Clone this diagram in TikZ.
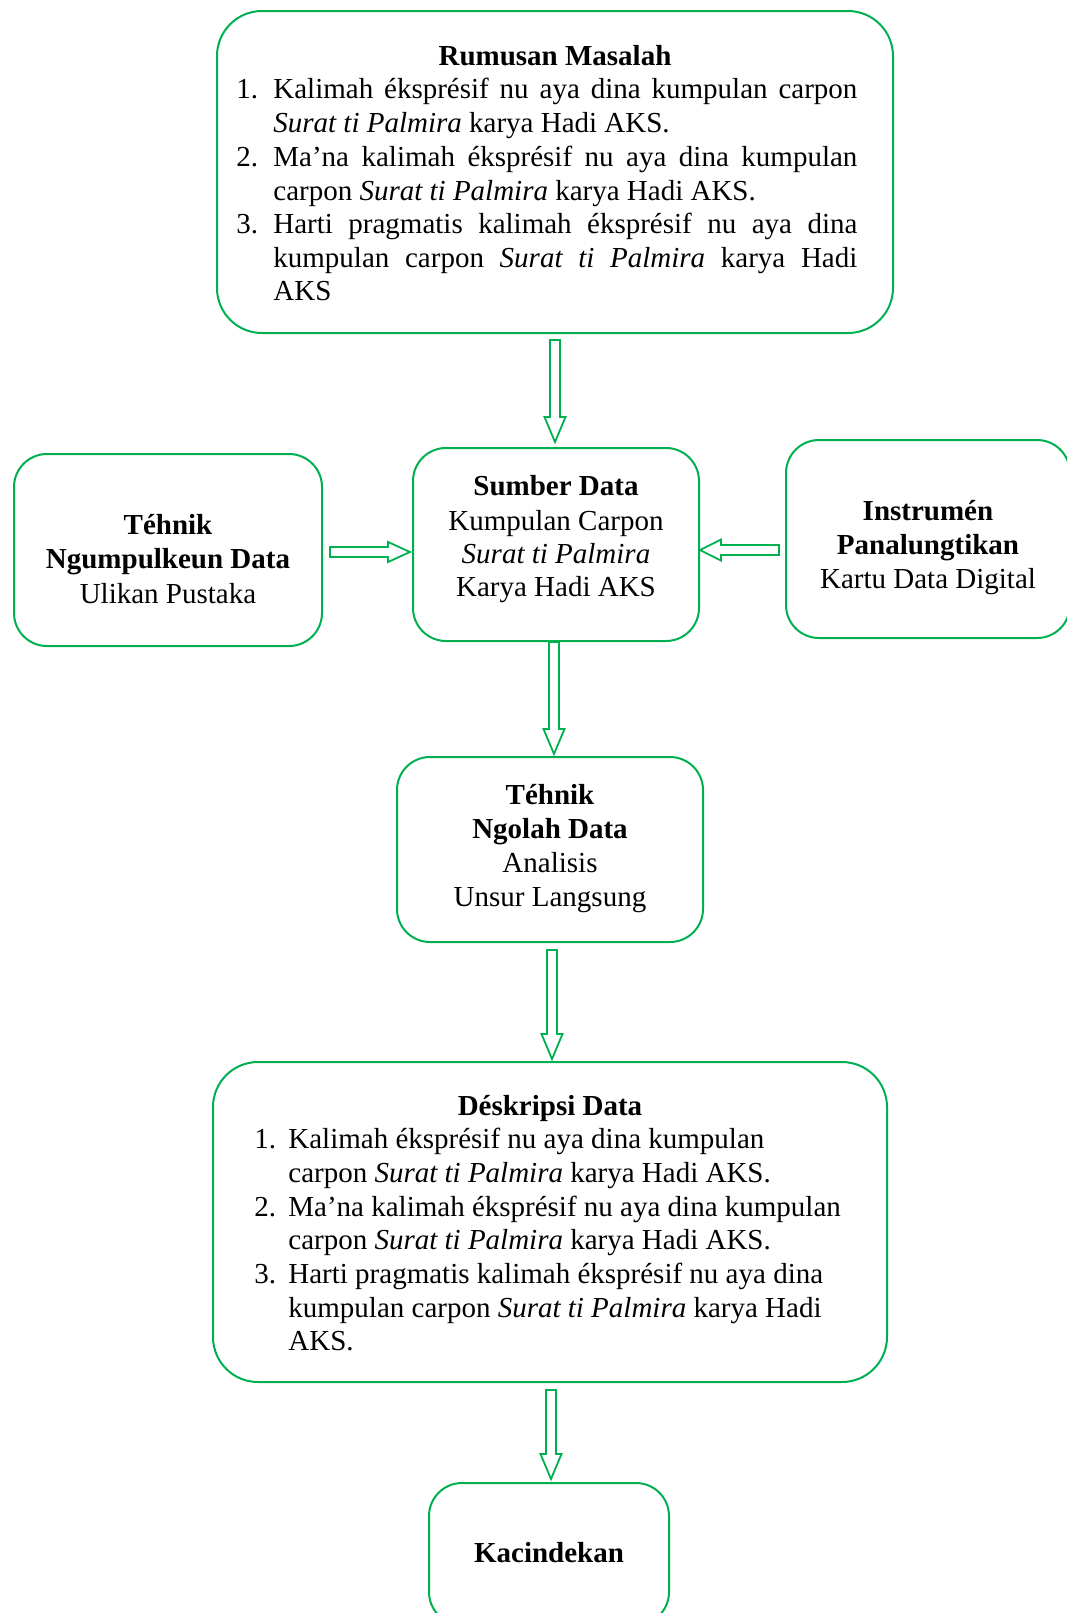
\documentclass[tikz,border=0pt]{standalone}
\usepackage{fontspec}
\setmainfont{Liberation Serif}
\usetikzlibrary{calc}
\definecolor{grn}{HTML}{00B050}
\begin{document}
\begin{tikzpicture}[x=0.5pt,y=-0.5pt,
  box/.style={draw=grn, line width=1pt, inner sep=0pt, rounded corners=16.5pt},
  bigbox/.style={box, rounded corners=22.5pt},
  txt/.style={inner sep=0pt, anchor=base, font=\fontsize{14.5pt}{17pt}\selectfont},
  txtl/.style={txt, anchor=base west},
  ttl/.style={txt, font=\fontsize{14.5pt}{17pt}\selectfont\bfseries},
  blk/.style={draw=grn, line width=0.9pt, fill=white, line join=miter},
  downblock/.style={blk, to path={let \p1=(\tikztostart), \p2=(\tikztotarget) in
    (\x1-2.5pt,\y1) -- (\x1-2.5pt,\y2+12.5pt) -- (\x1-5.25pt,\y2+12.5pt) -- (\x1,\y2)
    -- (\x1+5.25pt,\y2+12.5pt) -- (\x1+2.5pt,\y2+12.5pt) -- (\x1+2.5pt,\y1) -- cycle}},
  rightblock/.style={blk, to path={let \p1=(\tikztostart), \p2=(\tikztotarget) in
    (\x1,\y1-2.5pt) -- (\x2-11pt,\y1-2.5pt) -- (\x2-11pt,\y1-5pt) -- (\x2,\y1)
    -- (\x2-11pt,\y1+5pt) -- (\x2-11pt,\y1+2.5pt) -- (\x1,\y1+2.5pt) -- cycle}},
  leftblock/.style={blk, to path={let \p1=(\tikztostart), \p2=(\tikztotarget) in
    (\x1,\y1-2.5pt) -- (\x2+10.5pt,\y1-2.5pt) -- (\x2+10.5pt,\y1-5.25pt) -- (\x2,\y1)
    -- (\x2+10.5pt,\y1+5.25pt) -- (\x2+10.5pt,\y1+2.5pt) -- (\x1,\y1+2.5pt) -- cycle}}
]
\useasboundingbox (0,0) rectangle (1067,1613);
\clip (0,0) rectangle (1067,1613);

% boxes
\node[bigbox, minimum width=338pt, minimum height=161pt] (top) at (555,172) {};
\node[box, minimum width=154pt, minimum height=96pt] (lbox) at (168,550) {};
\node[box, minimum width=143pt, minimum height=96.5pt] (sumber) at (556,544.5) {};
\node[box, minimum width=142pt, minimum height=99pt] (rbox) at (928,539) {};
\node[box, minimum width=153pt, minimum height=92.5pt] (ngolah) at (550,849.5) {};
\node[bigbox, minimum width=337pt, minimum height=160pt] (desk) at (550,1222) {};
\node[box, minimum width=120pt, minimum height=71pt] (kac) at (549,1554) {};

% Rumusan Masalah
\node[ttl] (t0) at (555,65) {Rumusan Masalah};
\node[txtl] (t1n) at (236,98) {1.};
\node[txtl] (t1) at (273,98) {\makebox[292pt][s]{Kalimah éksprésif nu aya dina kumpulan carpon}};
\node[txtl] (t2) at (273,132) {\textit{Surat ti Palmira} karya Hadi AKS.};
\node[txtl] (t3n) at (236,166) {2.};
\node[txtl] (t3) at (273,166) {\makebox[292pt][s]{Ma’na kalimah éksprésif nu aya dina kumpulan}};
\node[txtl] (t4) at (273,200) {carpon \textit{Surat ti Palmira} karya Hadi AKS.};
\node[txtl] (t5n) at (236,233) {3.};
\node[txtl] (t5) at (273,233) {\makebox[292pt][s]{Harti pragmatis kalimah éksprésif nu aya dina}};
\node[txtl] (t6) at (273,267) {\makebox[292pt][s]{kumpulan carpon \textit{Surat ti Palmira} karya Hadi}};
\node[txtl] (t7) at (273,300) {AKS};

% Tehnik Ngumpulkeun Data
\node[ttl] (l1) at (168,534) {Téhnik};
\node[ttl] (l2) at (168,568) {Ngumpulkeun Data};
\node[txt] (l3) at (168,603) {Ulikan Pustaka};

% Sumber Data
\node[ttl] (s1) at (556,495) {Sumber Data};
\node[txt] (s2) at (556,530) {Kumpulan Carpon};
\node[txt] (s3) at (556,563) {\textit{Surat ti Palmira}};
\node[txt] (s4) at (556,596) {Karya Hadi AKS};

% Instrumen
\node[ttl] (r1) at (928,520) {Instrumén};
\node[ttl] (r2) at (928,554) {Panalungtikan};
\node[txt] (r3) at (928,588) {Kartu Data Digital};

% Tehnik Ngolah Data
\node[ttl] (n1) at (550,804) {Téhnik};
\node[ttl] (n2) at (550,838) {Ngolah Data};
\node[txt] (n3) at (550,872) {Analisis};
\node[txt] (n4) at (550,906) {Unsur Langsung};

% Deskripsi Data
\node[ttl] (d0) at (550,1115) {Déskripsi Data};
\node[txtl] (d1n) at (254,1148) {1.};
\node[txtl] (d1) at (288,1148) {Kalimah éksprésif nu aya dina kumpulan};
\node[txtl] (d2) at (288,1182) {carpon \textit{Surat ti Palmira} karya Hadi AKS.};
\node[txtl] (d3n) at (254,1216) {2.};
\node[txtl] (d3) at (288,1216) {Ma’na kalimah éksprésif nu aya dina kumpulan};
\node[txtl] (d4) at (288,1249) {carpon \textit{Surat ti Palmira} karya Hadi AKS.};
\node[txtl] (d5n) at (254,1283) {3.};
\node[txtl] (d5) at (288,1283) {Harti pragmatis kalimah éksprésif nu aya dina};
\node[txtl] (d6) at (288,1317) {kumpulan carpon \textit{Surat ti Palmira} karya Hadi};
\node[txtl] (d7) at (288,1350) {AKS.};

% Kacindekan
\node[ttl] (k1) at (549,1562) {Kacindekan};

% arrow end points
\coordinate (a1s) at ([yshift=-3pt]top.south);
\coordinate (a1e) at ([yshift=2.5pt]sumber.north);
\coordinate (a2s) at ([xshift=-1pt]sumber.south);
\coordinate (a2e) at ([yshift=1pt]ngolah.north);
\coordinate (a3s) at ([xshift=1pt,yshift=-3.5pt]ngolah.south);
\coordinate (a3e) at ([yshift=1pt]desk.north);
\coordinate (a4s) at ([xshift=0.5pt,yshift=-3.5pt]desk.south);
\coordinate (a4e) at ([yshift=1.5pt]kac.north);
\coordinate (als) at ([xshift=3.5pt,yshift=-1pt]lbox.east);
\coordinate (ale) at ([xshift=-1pt]sumber.west);
\coordinate (ars) at ([xshift=-3pt,yshift=-5.5pt]rbox.west);
\coordinate (are) at (sumber.east);

% arrows
\draw[downblock] (a1s) to (a1e);
\draw[downblock] (a2s) to (a2e);
\draw[downblock] (a3s) to (a3e);
\draw[downblock] (a4s) to (a4e);
\draw[rightblock] (als) to (ale);
\draw[leftblock] (ars) to (are);
\end{tikzpicture}
\end{document}
